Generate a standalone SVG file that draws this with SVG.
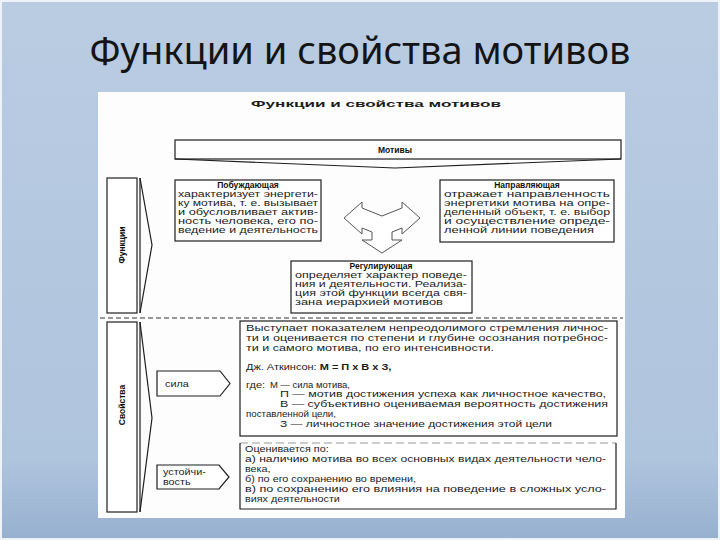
<svg xmlns="http://www.w3.org/2000/svg" width="720" height="540" viewBox="0 0 720 540">
<defs>
<linearGradient id="bg" x1="0" y1="0" x2="0" y2="1">
<stop offset="0" stop-color="#b9cce2"/>
<stop offset="0.85" stop-color="#afc4dd"/>
<stop offset="1" stop-color="#97b0d0"/>
</linearGradient>
<style>
.box{fill:#fff;stroke:#1e1e1e;stroke-width:1.2}
.ln{fill:none;stroke:#1e1e1e;stroke-width:1.2}
.t{font-family:"Liberation Sans",Arial,sans-serif;font-size:9px;fill:#1c1c1c}
.s{font-size:8.2px}
.ls{letter-spacing:0.4px}
.b{font-weight:bold}
.h{font-family:"Liberation Sans",Arial,sans-serif;font-size:8.5px;font-weight:bold;fill:#111;text-anchor:middle}
</style>
</defs>
<rect x="0" y="0" width="720" height="540" fill="url(#bg)"/>
<rect x="1" y="1" width="718" height="538" fill="none" stroke="#eef3f9" stroke-width="2"/>
<text x="360" y="64" text-anchor="middle" font-family="'Noto Sans','Open Sans',sans-serif" font-size="38" fill="#141414">Функции и свойства мотивов</text>
<rect x="98" y="92" width="527" height="426" fill="#fdfdfd"/>
<text x="251" y="107" class="t b" font-size="11" textLength="250" lengthAdjust="spacingAndGlyphs">Функции и свойства мотивов</text>

<g id="motivy">
<rect x="175" y="140" width="446" height="19" class="box" stroke-width="1.5"/>
<polyline points="175,159 395,168 621,159" class="ln"/>
<text x="395" y="153" class="h">Мотивы</text>
</g>

<g id="funkcii">
<rect x="107" y="178" width="30" height="135" class="box"/>
<line x1="140" y1="178" x2="140" y2="313" class="ln"/>
<polyline points="140,178 152,245 140,313" class="ln"/>
<text transform="translate(125,245) rotate(-90)" class="h" font-size="8">Функции</text>
</g>

<g id="pobuzhd">
<rect x="175" y="180" width="146" height="61" class="box"/>
<text x="248" y="188" class="h" font-size="8">Побуждающая</text>
<text class="t s"><tspan x="178" y="197" textLength="140" lengthAdjust="spacingAndGlyphs">характеризует энергети-</tspan></text>
<text class="t s"><tspan x="178" y="206" textLength="140" lengthAdjust="spacingAndGlyphs">ку мотива, т. е. вызывает</tspan></text>
<text class="t s"><tspan x="178" y="215" textLength="140" lengthAdjust="spacingAndGlyphs">и обусловливает актив-</tspan></text>
<text class="t s"><tspan x="178" y="224" textLength="140" lengthAdjust="spacingAndGlyphs">ность человека, его по-</tspan></text>
<text class="t s"><tspan x="178" y="233" textLength="140" lengthAdjust="spacingAndGlyphs">ведение и деятельность</tspan></text>
</g>

<g id="arrow3">
<polygon points="382,216 402,208 402,202 420,218 402,234 402,228 392,232 392,240 402,240 382,253 362,240 372,240 372,232 362,228 362,234 344,218 362,202 362,208" fill="#fff" stroke="#555" stroke-width="1"/>
</g>

<g id="napravl">
<rect x="440" y="180" width="174" height="62" class="box"/>
<text x="527" y="188" class="h" font-size="8">Направляющая</text>
<text class="t s"><tspan x="444" y="197" textLength="166" lengthAdjust="spacingAndGlyphs">отражает направленность</tspan></text>
<text class="t s"><tspan x="444" y="206" textLength="166" lengthAdjust="spacingAndGlyphs">энергетики мотива на опре-</tspan></text>
<text class="t s"><tspan x="444" y="215" textLength="166" lengthAdjust="spacingAndGlyphs">деленный объект, т. е. выбор</tspan></text>
<text class="t s"><tspan x="444" y="224" textLength="166" lengthAdjust="spacingAndGlyphs">и осуществление опреде-</tspan></text>
<text class="t s"><tspan x="444" y="233" textLength="150" lengthAdjust="spacingAndGlyphs">ленной линии поведения</tspan></text>
</g>

<g id="regul">
<rect x="291" y="261" width="181" height="52" class="box"/>
<text x="381" y="269" class="h" font-size="8">Регулирующая</text>
<text class="t s"><tspan x="295" y="278" textLength="172" lengthAdjust="spacingAndGlyphs">определяет характер поведе-</tspan></text>
<text class="t s"><tspan x="295" y="287" textLength="172" lengthAdjust="spacingAndGlyphs">ния и деятельности. Реализа-</tspan></text>
<text class="t s"><tspan x="295" y="296" textLength="172" lengthAdjust="spacingAndGlyphs">ция этой функции всегда свя-</tspan></text>
<text class="t s"><tspan x="295" y="305" textLength="148" lengthAdjust="spacingAndGlyphs">зана иерархией мотивов</tspan></text>
</g>

<g id="connectors">
<line x1="100" y1="318" x2="623" y2="318" stroke="#333" stroke-width="1" stroke-dasharray="5,3"/>
</g>

<g id="svoistva">
<rect x="107" y="322" width="30" height="190" class="box"/>
<line x1="140" y1="322" x2="140" y2="512" class="ln"/>
<polyline points="140,322 152,418 140,512" class="ln"/>
<text transform="translate(125,405) rotate(-90)" class="h" font-size="8">Свойства</text>
</g>

<g id="sila">
<polygon points="157,371 220,371 230,383.5 220,396 157,396" class="box" stroke-width="1"/>
<text transform="translate(165,387) scale(1.2,1)" class="t" fill="#444">сила</text>
</g>

<g id="sila-text">
<rect x="240" y="321" width="377" height="115" class="box"/>
<text class="t"><tspan x="246" y="331" textLength="362" lengthAdjust="spacingAndGlyphs">Выступает показателем непреодолимого стремления личнос-</tspan></text>
<text class="t"><tspan x="246" y="341" textLength="362" lengthAdjust="spacingAndGlyphs">ти и оценивается по степени и глубине осознания потребнос-</tspan></text>
<text class="t"><tspan x="246" y="351" textLength="248" lengthAdjust="spacingAndGlyphs">ти и самого мотива, по его интенсивности.</tspan></text>
<text transform="translate(246,370) scale(1.22,1)" class="t">Дж. Аткинсон: <tspan class="b">М = П х В х З,</tspan></text>
<text transform="translate(246,388) scale(1.22,1)" class="t">где:</text>
<text class="t"><tspan x="270" y="388" textLength="80" lengthAdjust="spacingAndGlyphs">М — сила мотива,</tspan></text>
<text class="t"><tspan x="280" y="397" textLength="326" lengthAdjust="spacingAndGlyphs">П — мотив достижения успеха как личностное качество,</tspan></text>
<text class="t"><tspan x="280" y="407" textLength="328" lengthAdjust="spacingAndGlyphs">В — субъективно оцениваемая вероятность достижения</tspan></text>
<text class="t"><tspan x="246" y="417" textLength="90" lengthAdjust="spacingAndGlyphs">поставленной цели,</tspan></text>
<text class="t"><tspan x="280" y="427" textLength="272" lengthAdjust="spacingAndGlyphs">З — личностное значение достижения этой цели</tspan></text>
</g>

<g id="ustoich">
<polygon points="157,465 219,465 229,477 219,489 157,489" class="box" stroke-width="1"/>
<text transform="translate(163,475) scale(1.2,1)" class="t" fill="#444">устойчи-</text>
<text transform="translate(163,485) scale(1.2,1)" class="t" fill="#444">вость</text>
</g>

<g id="ustoich-text">
<rect x="240" y="443" width="376" height="66" fill="#fff"/>
<line x1="240" y1="443" x2="616" y2="443" stroke="#999" stroke-width="1" stroke-dasharray="8,4"/>
<polyline points="240,443 240,509 616,509 616,443" class="ln"/>
<text transform="translate(245,452) scale(1.2,1)" class="t">Оценивается по:</text>
<text class="t"><tspan x="245" y="462" textLength="361" lengthAdjust="spacingAndGlyphs">а) наличию мотива во всех основных видах деятельности чело-</tspan></text>
<text transform="translate(245,472) scale(1.2,1)" class="t">века,</text>
<text transform="translate(245,482) scale(1.2,1)" class="t">б) по его сохранению во времени,</text>
<text class="t"><tspan x="245" y="492" textLength="361" lengthAdjust="spacingAndGlyphs">в) по сохранению его влияния на поведение в сложных усло-</tspan></text>
<text transform="translate(245,502) scale(1.2,1)" class="t">виях деятельности</text>
</g>
</svg>
